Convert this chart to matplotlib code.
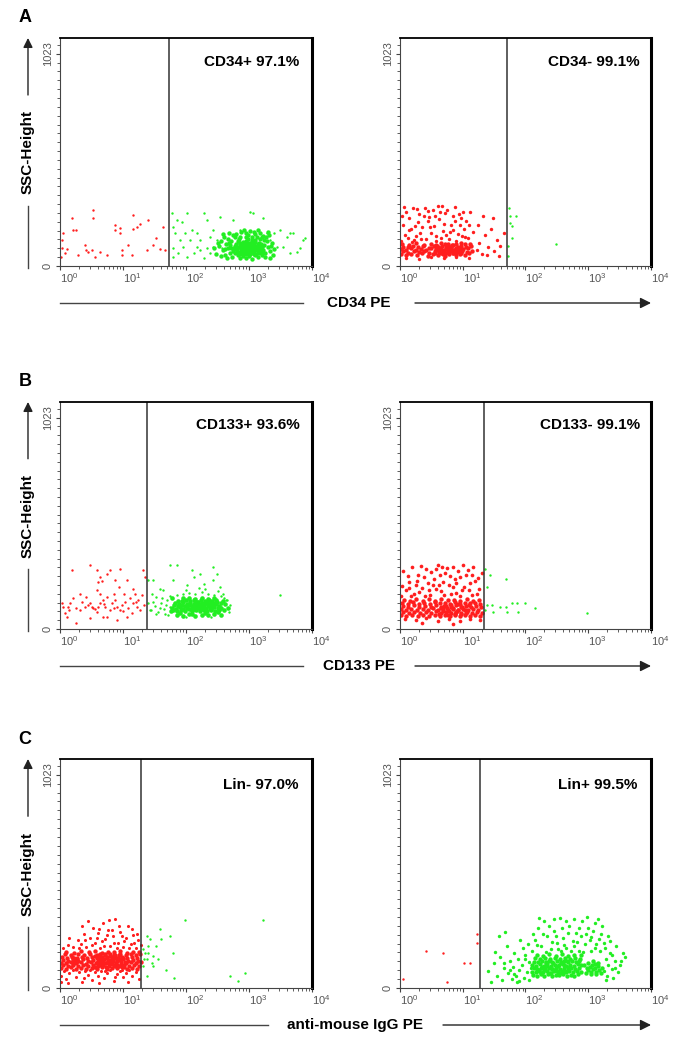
import numpy as np
import matplotlib
matplotlib.use('Agg')
import matplotlib.pyplot as plt
from matplotlib.lines import Line2D
from matplotlib.patches import FancyArrowPatch

plt.rcParams['font.family'] = ['Liberation Sans', 'DejaVu Sans']
plt.rcParams['mathtext.fontset'] = 'custom'
plt.rcParams['mathtext.rm'] = 'Liberation Sans'

# events: (log10 PE intensity, SSC-Height channel)
# ---- A left: CD34+ ----
a1_red = [(0.03, 85), (0.05, 158), (0.08, 61), (0.11, 80), (0.19, 230), (0.21, 174), (0.26, 174), (0.29, 53),
          (0.40, 101), (0.42, 77), (0.45, 69), (0.50, 77), (0.53, 270), (0.53, 230), (0.56, 45), (0.63, 69),
          (0.74, 53), (0.87, 198), (0.87, 174), (0.95, 182), (0.96, 158), (0.98, 77), (0.98, 53), (1.08, 101),
          (1.14, 53), (1.16, 246), (1.16, 177), (1.22, 190), (1.27, 203), (1.40, 222), (1.38, 77), (1.48, 101),
          (1.53, 133), (1.59, 80), (1.64, 190), (1.67, 77), (0.03, 125), (0.02, 45)]
a1_green = [(1.77, 254), (1.80, 190), (1.83, 158), (1.85, 222), (1.93, 214), (2.01, 254), (2.06, 125), (2.09, 174),
            (2.17, 158), (2.22, 125), (2.29, 254), (2.33, 222), (2.38, 141), (2.43, 174), (2.49, 125), (2.54, 238),
            (2.75, 222), (2.86, 174), (3.02, 262), (3.07, 254), (3.23, 230), (3.28, 158), (3.33, 125), (3.39, 158),
            (3.44, 93), (3.49, 174), (3.60, 141), (3.65, 158), (3.70, 158), (3.81, 85), (3.86, 125), (3.89, 133),
            (1.80, 85), (1.88, 61), (1.96, 93), (2.01, 45), (2.12, 61), (2.22, 77), (2.28, 37), (2.33, 85),
            (1.80, 45), (1.90, 125), (1.98, 158), (2.17, 93), (2.38, 61), (3.76, 69), (3.54, 93), (3.65, 61),
            (2.43, 93), (2.57, 85)]
a1_green_core = [(2.78, 62), (2.81, 75), (2.84, 90), (2.86, 104), (2.88, 68), (2.9, 118), (2.92, 82), (2.94, 96),
                 (2.96, 58), (2.98, 110), (3.0, 72), (3.02, 88), (3.04, 124), (3.06, 64), (3.08, 100), (3.1, 80),
                 (3.12, 92), (3.14, 70), (3.16, 112), (3.18, 84), (3.2, 66), (2.8, 98), (2.83, 120), (2.85, 56),
                 (2.87, 80), (2.89, 94), (2.91, 62), (2.93, 106), (2.95, 76), (2.97, 90), (2.99, 128), (3.01, 60),
                 (3.03, 102), (3.05, 78), (3.07, 86), (3.09, 116), (3.11, 58), (3.13, 98), (3.15, 88), (3.17, 74),
                 (3.19, 104), (3.21, 90), (2.76, 86), (2.79, 108), (2.82, 66), (2.85, 112), (2.88, 86), (2.9, 72),
                 (2.92, 100), (2.94, 68), (2.96, 122), (2.98, 84), (3.0, 96), (3.02, 70), (3.04, 108), (3.06, 92),
                 (3.08, 60), (3.1, 126), (3.12, 78), (3.14, 104), (3.16, 62), (3.18, 96), (2.8, 84), (2.87, 64),
                 (2.93, 88), (2.99, 64), (3.05, 116), (3.11, 94), (3.17, 130), (2.84, 130), (2.9, 100), (2.96, 104),
                 (3.02, 112), (3.08, 74), (3.14, 82), (2.74, 70), (2.77, 96), (3.22, 78), (3.24, 100), (2.95, 138),
                 (3.05, 140), (2.86, 140), (3.12, 138), (2.9, 50), (3.0, 48), (3.1, 52), (2.82, 52), (3.2, 54),
                 (2.48, 60), (2.52, 95), (2.55, 120), (2.58, 75), (2.6, 140), (2.62, 55), (2.64, 105), (2.66, 85),
                 (2.68, 160), (2.7, 65), (2.72, 120), (2.73, 45), (2.75, 150), (2.7, 100), (2.66, 130), (2.62, 80),
                 (2.56, 50), (2.5, 110), (3.26, 65), (3.28, 120), (3.3, 90), (3.32, 150), (3.34, 70), (3.36, 110),
                 (3.38, 55), (3.3, 165), (3.27, 140), (3.25, 42), (3.35, 95), (2.8, 155), (2.88, 165), (2.95, 158),
                 (3.02, 170), (3.1, 155), (3.18, 160), (3.22, 145), (2.85, 40), (2.95, 38), (3.05, 36), (3.15, 42),
                 (2.78, 140), (2.72, 85), (2.68, 110), (3.24, 125), (3.2, 140), (2.98, 150), (3.08, 162), (2.58, 155),
                 (3.4, 80), (2.45, 85), (2.92, 175), (3.14, 175), (2.65, 40), (3.33, 40)]

# ---- A right: CD34- ----
a2_red = [(0.02, 57), (0.1, 51), (0.18, 60), (0.27, 54), (0.35, 62), (0.44, 49), (0.52, 58), (0.6, 53), (0.66, 61),
          (0.72, 50), (0.78, 57), (0.84, 63), (0.9, 52), (0.96, 59), (1.03, 55), (1.1, 61),
          (0.05, 70), (0.13, 65), (0.22, 73), (0.3, 66), (0.39, 71), (0.47, 64), (0.55, 74), (0.62, 67), (0.68, 72),
          (0.74, 65), (0.8, 70), (0.86, 75), (0.93, 66), (0.99, 71), (1.06, 68), (1.14, 73),
          (0.01, 82), (0.09, 78), (0.17, 85), (0.25, 79), (0.34, 83), (0.42, 77), (0.5, 86), (0.57, 80), (0.63, 84),
          (0.7, 78), (0.76, 82), (0.82, 87), (0.88, 79), (0.95, 84), (1.01, 80), (1.08, 85),
          (0.04, 94), (0.12, 90), (0.2, 97), (0.29, 91), (0.37, 95), (0.46, 89), (0.54, 98), (0.61, 92), (0.67, 96),
          (0.73, 90), (0.79, 94), (0.85, 99), (0.92, 91), (0.98, 96), (1.05, 93), (1.13, 97),
          (0.03, 106), (0.15, 102), (0.26, 109), (0.38, 103), (0.49, 107), (0.58, 101), (0.65, 110), (0.71, 104),
          (0.77, 108), (0.83, 102), (0.89, 106), (0.97, 111), (1.04, 104), (1.12, 108),
          (0.56, 64), (0.6, 77), (0.64, 89), (0.69, 58), (0.73, 83), (0.77, 71), (0.81, 93), (0.85, 62), (0.89, 86),
          (0.93, 74), (0.97, 64), (0.59, 96), (0.7, 69), (0.82, 76), (0.94, 88), (0.65, 80), (0.88, 68), (0.75, 90)]
a2_red_upper = [(0.02, 120), (0.08, 150), (0.12, 135), (0.18, 180), (0.22, 125), (0.28, 210), (0.32, 160),
                (0.38, 240), (0.42, 130), (0.48, 190), (0.52, 270), (0.58, 145), (0.62, 225), (0.68, 170),
                (0.72, 255), (0.78, 130), (0.82, 200), (0.88, 285), (0.92, 155), (0.98, 230), (1.02, 180),
                (1.08, 135), (1.12, 260), (1.16, 165), (0.05, 200), (0.1, 260), (0.15, 230), (0.2, 280), (0.25, 145),
                (0.3, 250), (0.35, 190), (0.4, 280), (0.45, 215), (0.5, 160), (0.55, 240), (0.6, 290), (0.65, 135),
                (0.7, 205), (0.75, 270), (0.8, 165), (0.85, 240), (0.9, 120), (0.95, 200), (1.0, 260), (1.05, 215),
                (0.03, 240), (0.14, 175), (0.24, 195), (0.34, 128), (0.44, 265), (0.54, 195), (0.64, 260),
                (0.74, 150), (0.84, 175), (0.94, 250), (1.04, 140), (0.07, 285), (0.27, 275), (0.47, 235),
                (0.67, 290), (0.87, 215), (1.1, 200), (0.19, 118), (0.57, 120), (0.99, 145), (1.22, 75), (1.26, 110),
                (1.3, 60), (1.35, 150), (1.4, 90), (1.45, 180), (1.5, 70), (1.55, 125), (1.6, 95), (1.65, 160),
                (1.25, 200), (1.38, 55), (1.48, 230), (1.58, 50), (1.32, 240), (0.1, 40), (0.3, 36), (0.5, 42),
                (0.7, 38), (0.9, 44), (1.1, 40)]
a2_green = [(1.74, 281), (1.75, 241), (1.76, 209), (1.78, 193), (1.85, 241), (1.79, 137), (1.72, 96), (1.72, 48),
            (2.48, 104)]

# ---- B left: CD133+ ----
b1_red = [(0.19, 285), (0.48, 309), (0.58, 285), (0.63, 252), (0.66, 233), (0.61, 228), (0.74, 268), (0.79, 285),
          (0.95, 293), (0.87, 236), (0.93, 204), (1.06, 236), (1.16, 196), (1.19, 172), (1.32, 285), (1.35, 252),
          (0.03, 124), (0.05, 108), (0.08, 76), (0.13, 108), (0.16, 124), (0.21, 148), (0.26, 27), (0.32, 92),
          (0.40, 108), (0.45, 116), (0.48, 124), (0.50, 108), (0.53, 100), (0.58, 84), (0.61, 108), (0.63, 124),
          (0.69, 140), (0.71, 108), (0.74, 59), (0.79, 92), (0.82, 124), (0.87, 140), (0.90, 108), (0.95, 92),
          (0.98, 116), (1.03, 132), (1.08, 100), (1.11, 148), (1.14, 76), (1.16, 124), (1.22, 108), (1.24, 140),
          (1.27, 92), (1.30, 164), (1.33, 116), (0.63, 172), (0.74, 156), (0.85, 172), (1.01, 172), (0.58, 188),
          (0.42, 156), (0.32, 172), (0.69, 59), (0.90, 43), (0.48, 51), (0.11, 59), (1.06, 59),
          (0.25, 100), (0.35, 130), (0.55, 95), (0.85, 100), (1.0, 85), (1.2, 130), (0.15, 90), (0.7, 120)]
b1_green = [(1.40, 236), (1.48, 236), (1.59, 196), (1.64, 188), (1.75, 309), (1.85, 309), (2.09, 285), (2.12, 252),
            (2.22, 268), (2.43, 301), (2.43, 236), (2.49, 268), (2.70, 116), (3.49, 164), (1.40, 124), (1.43, 92),
            (1.46, 172), (1.53, 156), (2.54, 204), (2.59, 172), (2.65, 140), (1.80, 236), (2.01, 212), (2.28, 220),
            (1.45, 90), (1.5, 110), (1.55, 80), (1.6, 125), (1.65, 95), (1.7, 140), (1.72, 70), (1.75, 105),
            (1.48, 130), (1.58, 100), (1.68, 115), (1.62, 150), (1.74, 160), (1.52, 75), (1.66, 72),
            (1.85, 165), (1.95, 170), (2.05, 175), (2.15, 168), (2.25, 180), (2.35, 172), (2.45, 165),
            (2.55, 160), (2.0, 190), (2.3, 195), (2.5, 185), (2.2, 200), (2.64, 140), (2.68, 80), (2.6, 150),
            (2.0, 60), (2.4, 58)]
b1_green_core = [(1.8, 90), (1.86, 86), (1.92, 93), (1.98, 88), (2.04, 95), (2.1, 85), (2.16, 91), (2.22, 87),
                 (2.28, 94), (2.34, 89), (2.4, 92), (2.46, 86), (2.52, 90),
                 (1.78, 102), (1.84, 98), (1.9, 105), (1.96, 99), (2.02, 103), (2.08, 97), (2.14, 106), (2.2, 100),
                 (2.26, 104), (2.32, 98), (2.38, 103), (2.44, 107), (2.5, 100), (2.56, 104),
                 (1.81, 114), (1.87, 110), (1.93, 117), (1.99, 111), (2.05, 115), (2.11, 109), (2.17, 118),
                 (2.23, 112), (2.29, 116), (2.35, 110), (2.41, 115), (2.47, 119), (2.53, 112),
                 (1.83, 126), (1.89, 122), (1.95, 129), (2.01, 123), (2.07, 127), (2.13, 121), (2.19, 130),
                 (2.25, 124), (2.31, 128), (2.37, 122), (2.43, 127), (2.49, 131), (2.55, 124),
                 (1.88, 138), (1.94, 134), (2.0, 141), (2.06, 135), (2.12, 139), (2.18, 133), (2.24, 142), (2.3, 136),
                 (2.36, 140), (2.42, 134), (2.48, 139),
                 (1.95, 148), (2.05, 150), (2.15, 146), (2.25, 152), (2.35, 147), (2.45, 151),
                 (2.12, 98), (2.18, 108), (2.24, 120), (2.3, 102), (2.36, 118), (2.42, 108), (2.15, 125), (2.27, 95),
                 (2.33, 128), (2.39, 96), (2.21, 115), (2.45, 120), (2.09, 112), (2.26, 111), (2.4, 124),
                 (2.6, 90), (2.62, 120), (2.66, 100),
                 (1.85, 70), (1.95, 65), (2.05, 72), (2.15, 62), (2.25, 70), (2.35, 66), (2.45, 74), (2.55, 70),
                 (1.9, 76), (2.1, 74), (2.3, 76), (2.5, 80), (1.78, 148), (2.58, 138), (1.76, 85)]

# ---- B right: CD133- ----
b2_red = [(0.02, 66), (0.1, 62), (0.19, 69), (0.28, 63), (0.37, 68), (0.46, 61), (0.55, 67), (0.64, 64), (0.72, 70),
          (0.8, 62), (0.88, 67), (0.96, 63), (1.04, 69), (1.12, 64), (1.2, 68), (1.28, 62),
          (0.05, 81), (0.14, 77), (0.23, 84), (0.32, 78), (0.41, 83), (0.5, 76), (0.58, 85), (0.66, 79), (0.74, 82),
          (0.82, 77), (0.9, 84), (0.98, 78), (1.06, 83), (1.14, 79), (1.22, 82), (1.3, 77),
          (0.01, 96), (0.09, 92), (0.18, 99), (0.27, 93), (0.36, 98), (0.45, 91), (0.53, 100), (0.61, 94), (0.69, 97),
          (0.77, 92), (0.85, 99), (0.93, 93), (1.01, 98), (1.09, 94), (1.17, 97), (1.25, 92),
          (0.04, 111), (0.13, 107), (0.22, 114), (0.31, 108), (0.4, 113), (0.49, 106), (0.57, 115), (0.65, 109),
          (0.73, 112), (0.81, 107), (0.89, 114), (0.97, 108), (1.05, 113), (1.13, 109), (1.21, 112), (1.29, 107),
          (0.03, 126), (0.12, 122), (0.21, 129), (0.3, 123), (0.39, 128), (0.48, 121), (0.56, 130), (0.64, 124),
          (0.72, 127), (0.8, 122), (0.88, 129), (0.96, 123), (1.04, 128), (1.12, 124), (1.2, 127), (1.28, 122),
          (0.06, 141), (0.16, 137), (0.26, 144), (0.36, 138), (0.46, 143), (0.56, 136), (0.66, 145), (0.76, 139),
          (0.86, 142), (0.96, 137), (1.06, 144), (1.16, 138), (1.26, 142),
          (0.62, 72), (0.68, 88), (0.75, 104), (0.81, 118), (0.87, 74), (0.93, 90), (0.99, 106), (1.05, 76),
          (1.1, 116), (0.7, 112), (0.78, 86), (0.84, 100), (0.92, 120), (0.98, 72), (1.04, 92), (0.66, 100),
          (0.9, 80), (0.76, 70)]
b2_red_upper = [(0.08, 50), (0.25, 44), (0.42, 52), (0.6, 40), (0.78, 48), (0.95, 38), (1.12, 50), (1.28, 46),
                (0.35, 30), (0.85, 25),
                (0.02, 160), (0.09, 190), (0.15, 230), (0.22, 170), (0.28, 260), (0.35, 200), (0.41, 290),
                (0.48, 165), (0.54, 240), (0.6, 310), (0.66, 185), (0.72, 270), (0.78, 215), (0.84, 300), (0.9, 175),
                (0.96, 250), (1.02, 205), (1.08, 285), (1.14, 165), (1.2, 235), (1.26, 195), (1.3, 270),
                (0.05, 280), (0.12, 255), (0.19, 300), (0.25, 215), (0.31, 180), (0.38, 250), (0.44, 225),
                (0.5, 275), (0.57, 195), (0.63, 260), (0.69, 230), (0.75, 295), (0.81, 170), (0.87, 240),
                (0.93, 280), (0.99, 190), (1.05, 260), (1.11, 225), (1.17, 300), (1.23, 170),
                (0.03, 210), (0.18, 160), (0.33, 305), (0.46, 190), (0.62, 215), (0.8, 255), (0.95, 160), (1.1, 190),
                (1.25, 245), (0.4, 160), (0.7, 165), (0.58, 290), (0.85, 205), (1.0, 310), (0.27, 235), (0.14, 200),
                (0.52, 215), (0.67, 300), (0.9, 225), (1.15, 260)]
b2_green = [(1.36, 293), (1.43, 260), (1.69, 244), (1.38, 204), (1.38, 116), (1.46, 116), (1.59, 108), (1.69, 108),
            (1.78, 124), (1.86, 124), (1.99, 124), (2.15, 100), (1.36, 92), (1.48, 84), (1.70, 84), (1.88, 84),
            (2.98, 79)]

# ---- C left: Lin- ----
c1_red = [(0.02, 96), (0.1, 92), (0.18, 99), (0.26, 93), (0.34, 98), (0.42, 91), (0.5, 97), (0.58, 93), (0.66, 99),
          (0.74, 92), (0.82, 97), (0.9, 94), (0.98, 99), (1.06, 92), (1.14, 97), (1.22, 93),
          (0.05, 109), (0.13, 105), (0.21, 112), (0.29, 106), (0.37, 111), (0.45, 104), (0.53, 110), (0.61, 106),
          (0.69, 112), (0.77, 105), (0.85, 110), (0.93, 107), (1.01, 112), (1.09, 105), (1.17, 110), (1.25, 106),
          (0.01, 122), (0.09, 118), (0.17, 125), (0.25, 119), (0.33, 124), (0.41, 117), (0.49, 123), (0.57, 119),
          (0.65, 125), (0.73, 118), (0.81, 123), (0.89, 120), (0.97, 125), (1.05, 118), (1.13, 123), (1.21, 119),
          (1.28, 124),
          (0.04, 135), (0.12, 131), (0.2, 138), (0.28, 132), (0.36, 137), (0.44, 130), (0.52, 136), (0.6, 132),
          (0.68, 138), (0.76, 131), (0.84, 136), (0.92, 133), (1.0, 138), (1.08, 131), (1.16, 136), (1.24, 132),
          (0.03, 148), (0.11, 144), (0.19, 151), (0.27, 145), (0.35, 150), (0.43, 143), (0.51, 149), (0.59, 145),
          (0.67, 151), (0.75, 144), (0.83, 149), (0.91, 146), (0.99, 151), (1.07, 144), (1.15, 149), (1.23, 145),
          (0.08, 161), (0.18, 157), (0.28, 164), (0.38, 158), (0.48, 163), (0.56, 156), (0.64, 162), (0.72, 158),
          (0.8, 164), (0.88, 157), (0.96, 162), (1.04, 159), (1.12, 164), (1.2, 157), (1.27, 162),
          (0.1, 174), (0.22, 170), (0.34, 177), (0.46, 171), (0.56, 176), (0.66, 169), (0.76, 175), (0.86, 171),
          (0.96, 177), (1.06, 170), (1.16, 175), (1.26, 171),
          (0.56, 103), (0.6, 127), (0.63, 150), (0.66, 114), (0.7, 140), (0.73, 102), (0.76, 128), (0.79, 155),
          (0.82, 116), (0.85, 142), (0.88, 104), (0.91, 130), (0.94, 158), (0.97, 115), (1.0, 143), (1.03, 126),
          (0.58, 160), (0.62, 112), (0.68, 128), (0.72, 165), (0.78, 118), (0.84, 128), (0.9, 112), (0.96, 138),
          (1.02, 100), (0.64, 138), (0.74, 150), (0.86, 160), (0.98, 104), (0.7, 120), (0.8, 135), (0.92, 145),
          (0.22, 128), (0.24, 138), (0.26, 124), (0.23, 145), (0.25, 132), (0.21, 118), (0.27, 140)]
c1_red_outer = [(0.02, 60), (0.06, 80), (0.1, 45), (0.15, 70), (0.2, 85), (0.25, 55), (0.3, 75), (0.35, 30),
                (0.4, 82), (0.45, 62), (0.5, 40), (0.55, 78), (0.6, 58), (0.65, 84), (0.7, 48), (0.75, 70), (0.8, 86),
                (0.85, 35), (0.9, 66), (0.95, 80), (1.0, 52), (1.05, 74), (1.1, 86), (1.15, 60), (1.2, 78),
                (1.25, 45), (0.12, 22), (0.38, 50), (0.62, 22), (0.88, 52), (1.08, 30), (0.01, 30), (0.47, 88),
                (0.72, 84), (0.98, 86),
                (0.05, 190), (0.12, 205), (0.2, 195), (0.28, 230), (0.33, 210), (0.38, 260), (0.42, 195),
                (0.47, 240), (0.52, 290), (0.56, 215), (0.6, 265), (0.64, 190), (0.68, 310), (0.72, 235),
                (0.76, 280), (0.8, 200), (0.84, 250), (0.88, 330), (0.92, 215), (0.96, 270), (1.0, 195), (1.04, 240),
                (1.08, 300), (1.12, 210), (1.16, 255), (1.2, 190), (1.24, 230), (1.28, 205), (0.3, 190), (0.45, 320),
                (0.58, 240), (0.7, 200), (0.78, 325), (0.86, 215), (0.94, 300), (1.02, 225), (1.14, 285),
                (1.22, 260), (0.4, 230), (0.62, 285), (0.74, 255), (0.9, 190), (1.1, 190), (0.5, 205), (0.66, 225),
                (0.98, 250), (1.18, 215), (0.35, 300), (0.82, 280), (0.15, 240)]
c1_green = [(1.32, 185), (1.35, 169), (1.38, 137), (1.40, 201), (1.43, 233), (1.46, 121), (1.32, 105), (1.38, 249),
            (1.48, 153), (1.53, 201), (1.58, 285), (1.61, 233), (1.75, 252), (1.80, 169), (1.68, 85), (1.81, 48),
            (1.98, 325), (1.38, 56), (1.33, 137), (1.40, 169), (2.70, 56), (2.83, 32), (2.94, 72), (3.22, 325),
            (1.48, 105), (1.56, 137)]

# ---- C right: Lin+ ----
c2_red = [(0.05, 43), (0.41, 180), (0.69, 169), (0.75, 31), (1.02, 121), (1.12, 121), (1.22, 257), (1.22, 217)]
c2_green_core = [(2.12, 63), (2.18, 59), (2.24, 66), (2.3, 60), (2.36, 65), (2.42, 58), (2.48, 64), (2.54, 61),
                 (2.6, 66), (2.66, 59), (2.72, 64), (2.78, 60), (2.84, 65),
                 (2.1, 79), (2.16, 75), (2.22, 82), (2.28, 76), (2.34, 81), (2.4, 74), (2.46, 80), (2.52, 77),
                 (2.58, 82), (2.64, 75), (2.7, 80), (2.76, 76), (2.82, 81), (2.88, 77),
                 (2.13, 95), (2.19, 91), (2.25, 98), (2.31, 92), (2.37, 97), (2.43, 90), (2.49, 96), (2.55, 93),
                 (2.61, 98), (2.67, 91), (2.73, 96), (2.79, 92), (2.85, 97),
                 (2.11, 111), (2.17, 107), (2.23, 114), (2.29, 108), (2.35, 113), (2.41, 106), (2.47, 112),
                 (2.53, 109), (2.59, 114), (2.65, 107), (2.71, 112), (2.77, 108), (2.83, 113), (2.89, 109),
                 (2.14, 127), (2.2, 123), (2.26, 130), (2.32, 124), (2.38, 129), (2.44, 122), (2.5, 128), (2.56, 125),
                 (2.62, 130), (2.68, 123), (2.74, 128), (2.8, 124), (2.86, 129),
                 (2.15, 143), (2.23, 139), (2.31, 146), (2.39, 140), (2.47, 145), (2.55, 138), (2.63, 144),
                 (2.71, 141), (2.79, 146), (2.87, 139),
                 (2.18, 159), (2.28, 155), (2.38, 162), (2.48, 156), (2.58, 161), (2.68, 154), (2.78, 160),
                 (2.88, 157),
                 (2.21, 86), (2.27, 102), (2.33, 118), (2.39, 70), (2.45, 88), (2.51, 104), (2.57, 120), (2.63, 84),
                 (2.69, 100), (2.25, 72), (2.35, 106), (2.43, 124), (2.55, 70), (2.61, 110), (2.3, 88), (2.5, 84),
                 (2.4, 98), (2.66, 128),
                 (2.96, 70), (3.0, 85), (3.02, 100), (3.05, 65), (3.08, 92), (3.1, 115), (3.12, 78), (3.15, 105),
                 (3.17, 88), (3.0, 120), (3.06, 110), (3.13, 68), (2.98, 95), (3.04, 76), (3.1, 98), (3.16, 120),
                 (3.2, 72), (3.22, 95), (2.93, 110), (3.08, 130)]
c2_green = [(2.1, 180), (2.15, 230), (2.2, 290), (2.25, 200), (2.3, 320), (2.35, 250), (2.4, 185), (2.45, 275),
            (2.5, 215), (2.55, 335), (2.6, 240), (2.65, 190), (2.7, 300), (2.75, 225), (2.8, 265), (2.85, 180),
            (2.9, 320), (2.95, 210), (3.0, 290), (3.05, 245), (3.1, 190), (3.15, 330), (3.2, 260), (3.25, 215),
            (2.12, 260), (2.18, 205), (2.28, 260), (2.38, 300), (2.42, 220), (2.52, 185), (2.58, 290), (2.62, 205),
            (2.72, 180), (2.78, 330), (2.82, 220), (2.88, 250), (2.92, 175), (2.98, 340), (3.02, 230), (3.08, 275),
            (3.12, 210), (3.18, 180), (3.22, 300), (2.22, 335), (2.48, 250), (2.68, 265), (2.85, 290), (3.05, 180),
            (2.33, 175), (2.57, 178), (2.77, 200), (2.97, 260), (3.17, 235), (2.45, 330), (2.65, 320), (3.1, 310),
            (1.4, 80), (1.45, 30), (1.5, 120), (1.55, 60), (1.6, 150), (1.62, 40), (1.66, 95), (1.7, 200), (1.72, 70),
            (1.75, 130), (1.78, 45), (1.8, 100), (1.82, 170), (1.85, 60), (1.88, 140), (1.9, 85), (1.92, 230),
            (1.95, 110), (1.98, 50), (2.0, 160), (2.02, 75), (2.05, 125), (2.06, 40), (2.08, 95), (1.58, 250),
            (1.52, 175), (1.68, 270), (1.86, 28), (1.96, 190), (2.04, 210), (1.75, 85), (1.9, 35), (1.65, 120),
            (2.0, 140), (1.82, 65),
            (3.25, 80), (3.28, 140), (3.3, 60), (3.32, 110), (3.35, 170), (3.38, 90), (3.4, 50), (3.42, 130),
            (3.45, 200), (3.48, 75), (3.5, 110), (3.55, 170), (3.58, 150), (3.28, 40), (3.35, 225), (3.42, 95),
            (3.26, 190), (3.32, 250), (3.38, 160), (3.52, 130)]

gates = [53, 51, 24, 22, 19.5, 19]
gate_labels = ['CD34+ 97.1%', 'CD34- 99.1%', 'CD133+ 93.6%', 'CD133- 99.1%', 'Lin- 97.0%', 'Lin+ 99.5%']
x_titles = ['CD34 PE', 'CD133 PE', 'anti-mouse IgG PE']
row_letters = ['A', 'B', 'C']

RED = '#ff1e1e'
GREEN = '#22ee22'
GREY = '#444444'

# (points, colour, marker size) for each panel, red drawn first
populations = [
    [(a1_red, RED, 3), (a1_green, GREEN, 3), (a1_green_core, GREEN, 10)],
    [(a2_red_upper, RED, 6), (a2_red, RED, 10), (a2_green, GREEN, 3)],
    [(b1_red, RED, 3), (b1_green, GREEN, 3), (b1_green_core, GREEN, 11)],
    [(b2_red_upper, RED, 7), (b2_red, RED, 10), (b2_green, GREEN, 3)],
    [(c1_red_outer, RED, 5), (c1_red, RED, 10), (c1_green, GREEN, 3)],
    [(c2_red, RED, 3), (c2_green, GREEN, 6), (c2_green_core, GREEN, 10)],
]

W, H = 685, 1041
fig = plt.figure(figsize=(W / 100, H / 100), dpi=100)


def fx(px):
    return px / W


def fy(py):
    return 1 - py / H


rows = [(38, 266), (402, 629), (759, 988)]  # box top / bottom in pixels
cols = [(60, 252), (400, 251)]              # box left / width in pixels
label_pos = [(0.95, 0.895), (0.956, 0.895), (0.95, 0.90), (0.956, 0.90), (0.945, 0.886), (0.945, 0.886)]
# x-title: text centre, end of left line, start of right arrow (pixels)
xtitle_geom = [(359, 303, 415), (359, 303, 415), (355, 268, 443)]

for r, (top, bot) in enumerate(rows):
    for c, (left, width) in enumerate(cols):
        k = 2 * r + c
        ax = fig.add_axes([fx(left), fy(bot), width / W, (bot - top) / H])
        for pts, col, s in populations[k]:
            arr = np.array(pts, dtype=float)
            ax.scatter(10 ** arr[:, 0], arr[:, 1], s=s, c=col, marker='o', linewidths=0)
        ax.set_xscale('log')
        ax.set_xlim(1, 1e4)
        ax.set_ylim(0, 1100)
        ax.axvline(gates[k], color='#333333', lw=1.1)
        ax.text(label_pos[k][0], label_pos[k][1], gate_labels[k], transform=ax.transAxes, ha='right', va='center',
                fontsize=11, fontweight='bold')

        for side in ['left', 'bottom']:
            ax.spines[side].set_linewidth(0.8)
            ax.spines[side].set_color(GREY)
        ax.spines['top'].set_linewidth(1.3)
        ax.spines['right'].set_linewidth(2.2)

        ax.set_xticks([1, 10, 100, 1000, 10000])
        ax.set_xticklabels([r'$\mathregular{10^{%d}}$' % i for i in range(5)])
        for t in ax.get_xticklabels():
            t.set_horizontalalignment('left')
        ax.set_yticks([0, 1023])
        ax.set_yticklabels(['0', '1023'], rotation=90, va='center')
        ax.set_yticks(np.arange(0, 1100, 1024 / 24), minor=True)
        ax.tick_params(axis='both', which='major', labelsize=8, labelcolor='#555555', color=GREY, length=3,
                       width=0.8, pad=2)
        ax.tick_params(axis='both', which='minor', color=GREY, length=2, width=0.6)
        ax.tick_params(axis='x', which='major', pad=1)

        if c == 0:
            # SSC-Height axis title with arrow
            xa = -0.127
            ax.text(xa, 0.5, 'SSC-Height', transform=ax.transAxes, rotation=90, ha='center', va='center',
                    fontsize=11, fontweight='bold')
            ax.annotate('', xy=(xa, 1.0), xytext=(xa, 0.75), xycoords='axes fraction',
                        arrowprops=dict(arrowstyle='-|>', color='#222222', lw=1, mutation_scale=14,
                                        shrinkA=0, shrinkB=0))
            ax.add_line(Line2D([xa, xa], [0.265, -0.01], transform=ax.transAxes, color=GREY, lw=1, clip_on=False))
            fig.text(fx(25), fy(top - 20), row_letters[r], fontsize=13, fontweight='bold', ha='center', va='center')

    # x title with line and arrow
    cx, lend, astart = xtitle_geom[r]
    yl = fy(bot + 37)
    fig.text(fx(cx), yl, x_titles[r], fontsize=11, fontweight='bold', ha='center', va='center')
    fig.add_artist(Line2D([fx(60), fx(lend)], [yl, yl], color=GREY, lw=1))
    fig.add_artist(FancyArrowPatch((fx(astart), yl), (fx(651), yl), transform=fig.transFigure,
                                   arrowstyle='-|>', mutation_scale=16, color='#222222', lw=1,
                                   shrinkA=0, shrinkB=0))

fig.savefig('out.png', dpi=100)
